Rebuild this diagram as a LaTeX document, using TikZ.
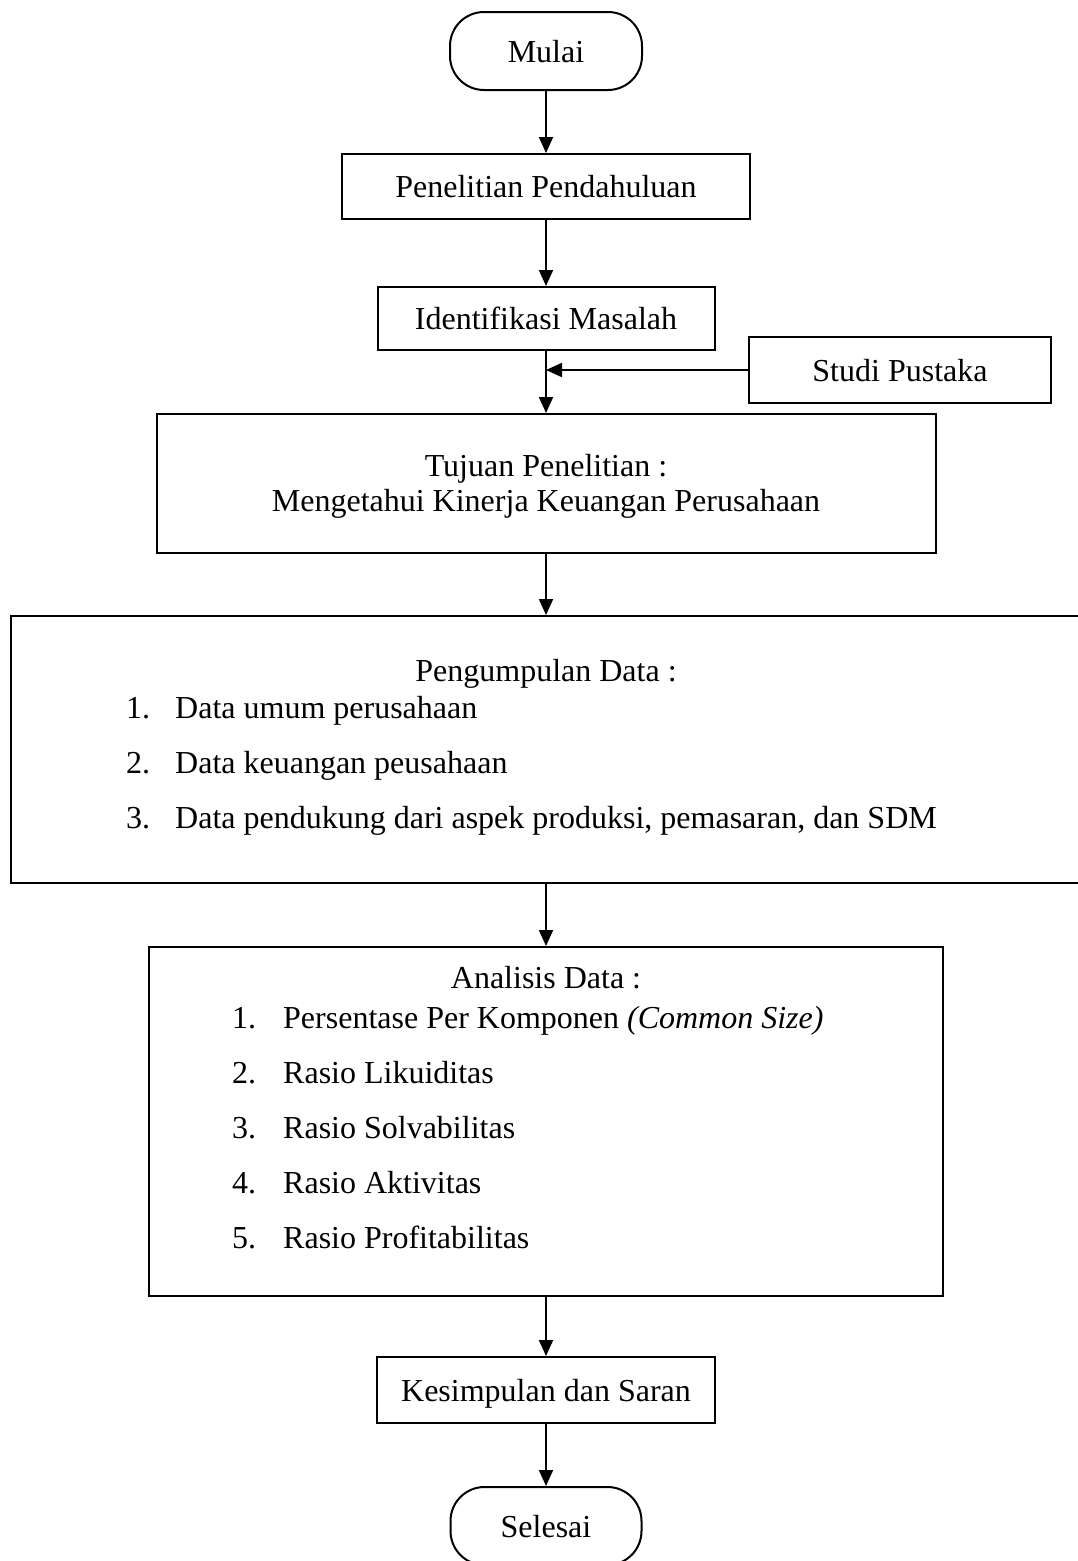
\documentclass[tikz,border=0pt]{standalone}
\usepackage{fontspec}
\setmainfont{Liberation Serif}
\usetikzlibrary{arrows.meta}
\begin{document}
\begin{tikzpicture}[x=1pt,y=-1pt,
  every node/.style={font=\fontsize{32}{38}\selectfont, inner sep=0pt},
  box/.style={draw, line width=2pt, rectangle, text height=22pt, text depth=0pt},
  term/.style={box, rounded corners=34pt},
  txt/.style={anchor=base},
  item/.style={anchor=base west},
  arr/.style={line width=2pt, -{Triangle[width=14pt,length=16pt]}}]
\useasboundingbox (0,0) rectangle (1077,1561);

\node[term, minimum width=192pt, minimum height=78pt] (mulai) at (546,51) {Mulai};
\node[box, minimum width=408pt, minimum height=65pt] (pen) at (546,186.5) {Penelitian Pendahuluan};
\node[box, minimum width=337pt, minimum height=63pt] (idm) at (546,318.5) {Identifikasi Masalah};
\node[box, minimum width=302pt, minimum height=66pt] (studi) at (900,370) {Studi Pustaka};

\node[box, minimum width=779pt, minimum height=139pt] (tujuan) at (546,483.5) {};
\node[txt] (tuj1) at (546,476) {Tujuan Penelitian :};
\node[txt] (tuj2) at (546,511) {Mengetahui Kinerja Keuangan Perusahaan};

\node[box, minimum width=1070pt, minimum height=267pt] (kumpul) at (546,749.5) {};
\node[txt] (kt) at (546,681) {Pengumpulan Data :};
\node[item] (kn1) at (126,718) {1.};
\node[item] (ki1) at (175,718) {Data umum perusahaan};
\node[item] (kn2) at (126,773) {2.};
\node[item] (ki2) at (175,773) {Data keuangan peusahaan};
\node[item] (kn3) at (126,828) {3.};
\node[item] (ki3) at (175,828) {Data pendukung dari aspek produksi, pemasaran, dan SDM};

\node[box, minimum width=794pt, minimum height=349pt] (analisis) at (546,1121.5) {};
\node[txt] (at) at (546,988) {Analisis Data :};
\node[item] (an1) at (232,1028) {1.};
\node[item] (ai1) at (283,1028) {Persentase Per Komponen \textit{(Common Size)}};
\node[item] (an2) at (232,1083) {2.};
\node[item] (ai2) at (283,1083) {Rasio Likuiditas};
\node[item] (an3) at (232,1138) {3.};
\node[item] (ai3) at (283,1138) {Rasio Solvabilitas};
\node[item] (an4) at (232,1193) {4.};
\node[item] (ai4) at (283,1193) {Rasio Aktivitas};
\node[item] (an5) at (232,1248) {5.};
\node[item] (ai5) at (283,1248) {Rasio Profitabilitas};

\node[box, minimum width=338pt, minimum height=66pt] (kes) at (546,1390) {Kesimpulan dan Saran};
\node[term, minimum width=191pt, minimum height=78pt] (selesai) at (546,1526) {Selesai};

\draw[arr] (mulai.south) -- (pen.north);
\draw[arr] (pen.south) -- (idm.north);
\draw[arr] (idm.south) -- (tujuan.north);
\draw[arr] (studi.west) -- (studi.west -| idm.south);
\draw[arr] (tujuan.south) -- (kumpul.north -| tujuan.south);
\draw[arr] (kumpul.south -| tujuan.south) -- (analisis.north);
\draw[arr] (analisis.south) -- (kes.north);
\draw[arr] (kes.south) -- (selesai.north);
\end{tikzpicture}
\end{document}
